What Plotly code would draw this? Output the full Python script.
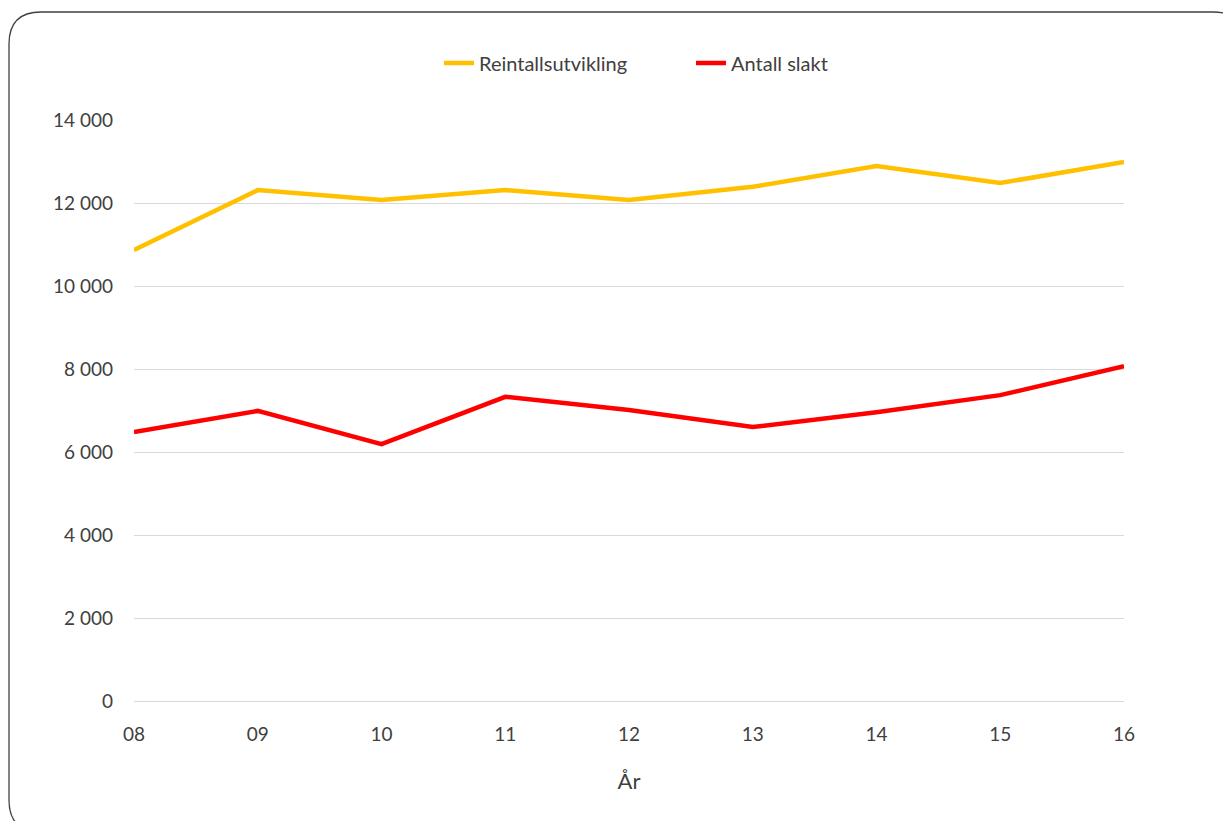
import plotly.graph_objects as go

years = ["08", "09", "10", "11", "12", "13", "14", "15", "16"]
reintall = [10870, 12310, 12070, 12310, 12070, 12390, 12890, 12480, 12990]
slakt = [6480, 6990, 6190, 7330, 7010, 6600, 6960, 7370, 8070]
y_ticks = [0, 2000, 4000, 6000, 8000, 10000, 12000, 14000]
y_labels = ["0", "2 000", "4 000", "6 000", "8 000", "10 000", "12 000", "14 000"]

W, H = 1231, 821
OFF = 8  # page body margin
L, R, T, B = 134 - OFF, 1124 - OFF, 120 - OFF, 701 - OFF
FONT = "Lato, 'Open Sans', sans-serif"
TXT = "#404040"

fig = go.Figure()
fig.add_trace(go.Scatter(x=years, y=reintall, mode="lines", name="Reintallsutvikling",
                         line=dict(color="#FFC000", width=4.5)))
fig.add_trace(go.Scatter(x=years, y=slakt, mode="lines", name="Antall slakt",
                         line=dict(color="#FF0000", width=4.5)))

def px(x):
    return (x - OFF - L) / (R - L)

def py(y):
    return (B - (y - OFF)) / (B - T)

# rounded frame (given in screen coordinates)
x0, x1, y0, y1, r = 9, 1245, 12, 832, 32
path = (f"M {px(x0+r)},{py(y0)} L {px(x1-r)},{py(y0)} Q {px(x1)},{py(y0)} {px(x1)},{py(y0+r)} "
        f"L {px(x1)},{py(y1-r)} Q {px(x1)},{py(y1)} {px(x1-r)},{py(y1)} "
        f"L {px(x0+r)},{py(y1)} Q {px(x0)},{py(y1)} {px(x0)},{py(y1-r)} "
        f"L {px(x0)},{py(y0+r)} Q {px(x0)},{py(y0)} {px(x0+r)},{py(y0)} Z")
fig.add_shape(type="path", path=path, xref="paper", yref="paper",
              line=dict(color="#404040", width=1.3), layer="below")

fig.update_layout(
    width=W, height=H,
    margin=dict(l=L, r=W - R, t=T, b=H - B),
    paper_bgcolor="white", plot_bgcolor="white",
    font=dict(family=FONT, size=18, color=TXT),
    showlegend=True,
    legend=dict(orientation="h", x=px(439), xanchor="left", y=py(63), yanchor="middle",
                font=dict(family=FONT, size=20, color=TXT), entrywidth=207, entrywidthmode="pixels",
                bgcolor="rgba(0,0,0,0)"),
    xaxis=dict(type="category", range=[0, len(years) - 1], showgrid=False, zeroline=False,
               showline=False, ticks="", ticklabelstandoff=20, tickfont=dict(size=19, color=TXT),
               title=dict(text="År", font=dict(size=22, color=TXT), standoff=29)),
    yaxis=dict(range=[0, 14000], tickvals=y_ticks, ticktext=y_labels, showgrid=True,
               gridcolor="#D9D9D9", gridwidth=1, zeroline=True, zerolinecolor="#D9D9D9",
               zerolinewidth=1, showline=False, ticks="",
               ticklabelstandoff=20, tickfont=dict(size=19, color=TXT)),
)

fig.write_html("out.html")
